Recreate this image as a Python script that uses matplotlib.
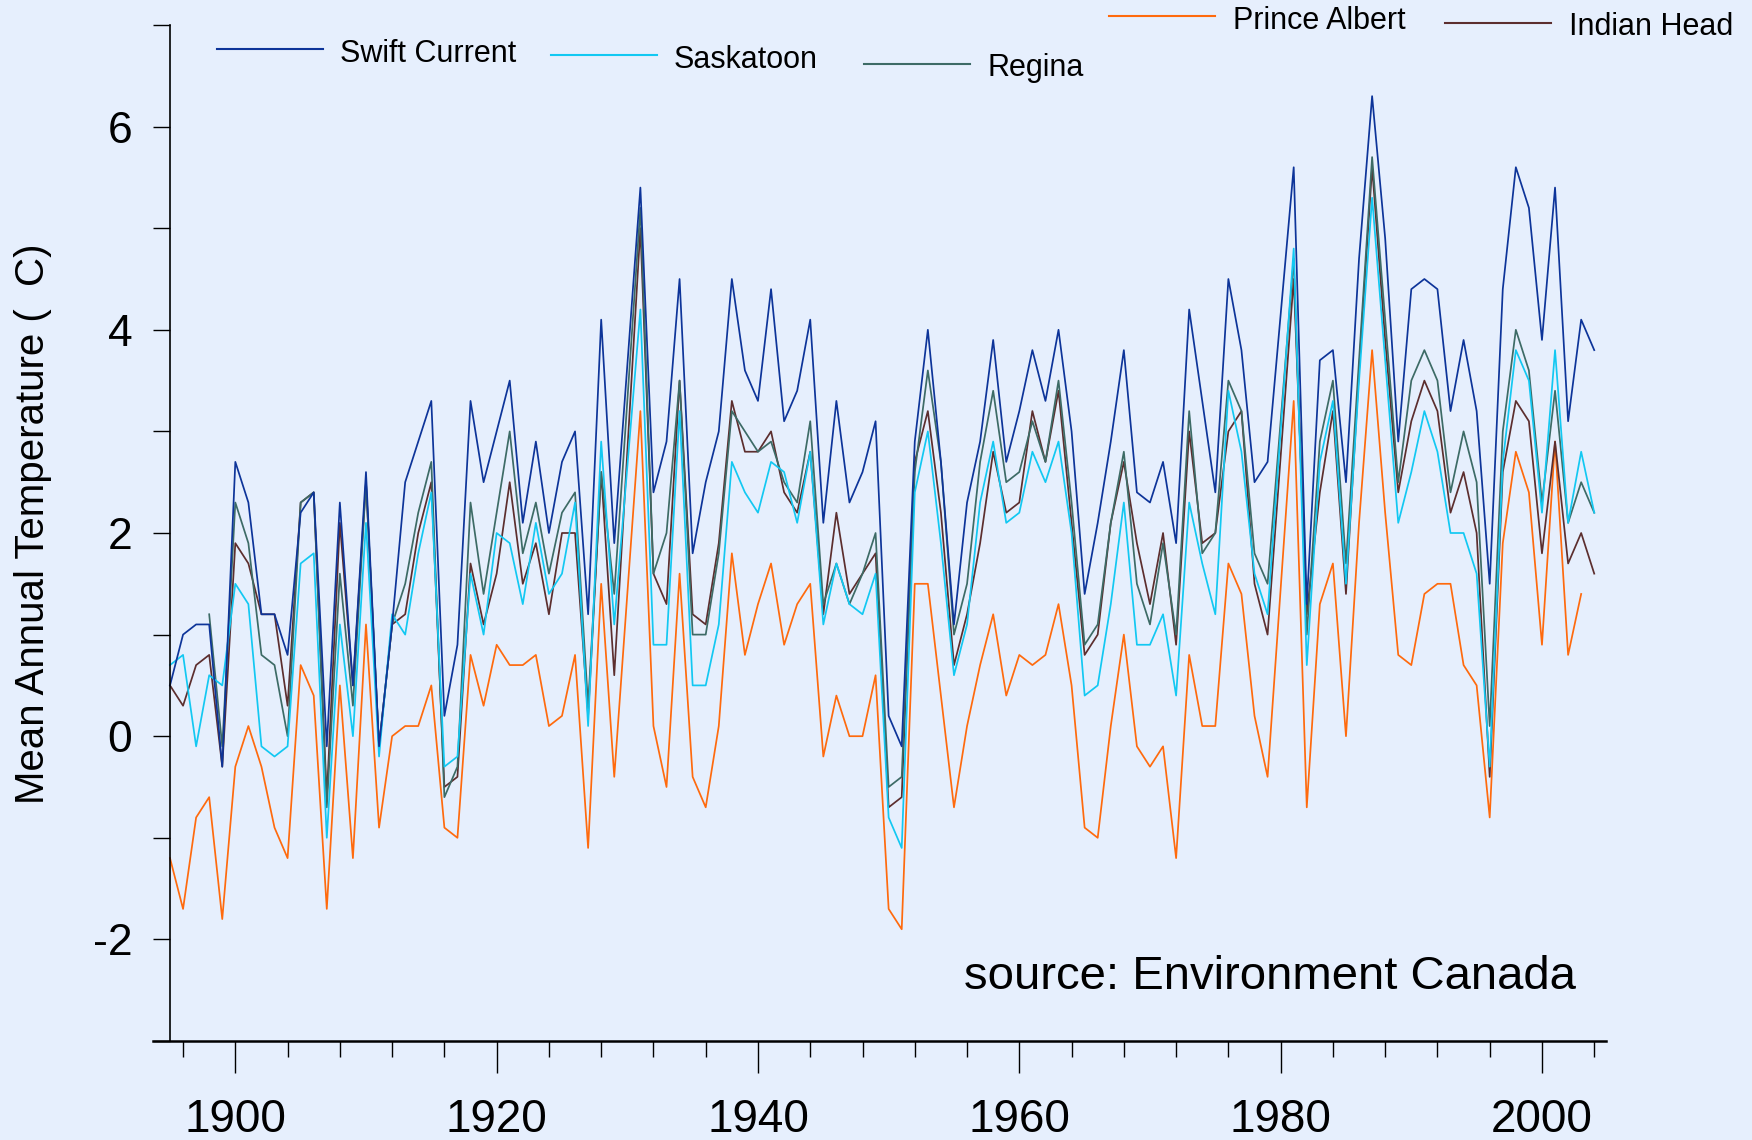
import numpy as np
import matplotlib
matplotlib.use("Agg")
import matplotlib.pyplot as plt
from matplotlib.lines import Line2D

plt.rcParams['font.family'] = ['Liberation Sans', 'DejaVu Sans']
plt.rcParams['axes.unicode_minus'] = False

nan = np.nan

# 年份（1930 和 1980 没有数据点）
years = [y for y in range(1895, 2005) if y not in (1930, 1980)]

# 每行一个年代：1895-99, 1900s, 1910s, 1920s, 1931-39, 1940s, 1950s, 1960s, 1970s, 1981-89, 1990s, 2000-04
swift_current = [
    0.5, 1.0, 1.1, 1.1, -0.3,
    2.7, 2.3, 1.2, 1.2, 0.8, 2.2, 2.4, -0.1, 2.3, 0.5,
    2.6, -0.1, 1.1, 2.5, 2.9, 3.3, 0.2, 0.9, 3.3, 2.5,
    3.0, 3.5, 2.1, 2.9, 2.0, 2.7, 3.0, 1.2, 4.1, 1.9,
    5.4, 2.4, 2.9, 4.5, 1.8, 2.5, 3.0, 4.5, 3.6,
    3.3, 4.4, 3.1, 3.4, 4.1, 2.1, 3.3, 2.3, 2.6, 3.1,
    0.2, -0.1, 2.9, 4.0, 2.7, 1.1, 2.3, 2.9, 3.9, 2.7,
    3.2, 3.8, 3.3, 4.0, 3.0, 1.4, 2.1, 2.9, 3.8, 2.4,
    2.3, 2.7, 1.9, 4.2, 3.3, 2.4, 4.5, 3.8, 2.5, 2.7,
    5.6, 1.3, 3.7, 3.8, 2.5, 4.7, 6.3, 4.9, 2.9,
    4.4, 4.5, 4.4, 3.2, 3.9, 3.2, 1.5, 4.4, 5.6, 5.2,
    3.9, 5.4, 3.1, 4.1, 3.8]

saskatoon = [
    0.7, 0.8, -0.1, 0.6, 0.5,
    1.5, 1.3, -0.1, -0.2, -0.1, 1.7, 1.8, -1.0, 1.1, 0.0,
    2.1, -0.2, 1.2, 1.0, 1.8, 2.4, -0.3, -0.2, 1.6, 1.0,
    2.0, 1.9, 1.3, 2.1, 1.4, 1.6, 2.3, 0.1, 2.9, 1.1,
    4.2, 0.9, 0.9, 3.2, 0.5, 0.5, 1.1, 2.7, 2.4,
    2.2, 2.7, 2.6, 2.1, 2.8, 1.1, 1.7, 1.3, 1.2, 1.6,
    -0.8, -1.1, 2.4, 3.0, 1.9, 0.6, 1.1, 2.3, 2.9, 2.1,
    2.2, 2.8, 2.5, 2.9, 2.0, 0.4, 0.5, 1.3, 2.3, 0.9,
    0.9, 1.2, 0.4, 2.3, 1.7, 1.2, 3.4, 2.8, 1.6, 1.2,
    4.8, 0.7, 2.7, 3.3, 1.5, 3.5, 5.3, 3.7, 2.1,
    2.6, 3.2, 2.8, 2.0, 2.0, 1.6, -0.3, 2.7, 3.8, 3.5,
    2.2, 3.8, 2.1, 2.8, 2.2]

regina = [
    nan, nan, nan, 1.2, -0.1,
    2.3, 1.9, 0.8, 0.7, 0.0, 2.3, 2.4, -0.7, 1.6, 0.3,
    2.5, -0.1, 1.1, 1.5, 2.2, 2.7, -0.6, -0.3, 2.3, 1.4,
    2.2, 3.0, 1.8, 2.3, 1.6, 2.2, 2.4, 0.3, 2.6, 1.4,
    5.2, 1.6, 2.0, 3.5, 1.0, 1.0, 1.8, 3.2, 3.0,
    2.8, 2.9, 2.5, 2.3, 3.1, 1.3, 1.7, 1.3, 1.6, 2.0,
    -0.5, -0.4, 2.6, 3.6, 2.7, 1.0, 1.5, 2.7, 3.4, 2.5,
    2.6, 3.1, 2.7, 3.5, 2.3, 0.9, 1.1, 2.1, 2.8, 1.5,
    1.1, 1.9, 1.0, 3.2, 1.8, 2.0, 3.5, 3.2, 1.8, 1.5,
    4.7, 1.0, 2.9, 3.5, 1.7, 3.7, 5.7, 4.1, 2.5,
    3.5, 3.8, 3.5, 2.4, 3.0, 2.5, 0.1, 3.0, 4.0, 3.6,
    2.3, 3.4, 2.1, 2.5, 2.2]

indian_head = [
    0.5, 0.3, 0.7, 0.8, -0.3,
    1.9, 1.7, 1.2, 1.2, 0.3, 2.3, 2.4, -0.6, 2.1, 0.5,
    2.5, -0.1, 1.1, 1.2, 2.0, 2.5, -0.5, -0.4, 1.7, 1.1,
    1.6, 2.5, 1.5, 1.9, 1.2, 2.0, 2.0, 0.2, 2.6, 0.6,
    5.0, 1.6, 1.3, 3.5, 1.2, 1.1, 1.9, 3.3, 2.8,
    2.8, 3.0, 2.4, 2.2, 2.8, 1.2, 2.2, 1.4, 1.6, 1.8,
    -0.7, -0.6, 2.7, 3.2, 2.2, 0.7, 1.2, 1.9, 2.8, 2.2,
    2.3, 3.2, 2.7, 3.4, 2.1, 0.8, 1.0, 2.1, 2.7, 1.9,
    1.3, 2.0, 0.9, 3.0, 1.9, 2.0, 3.0, 3.2, 1.5, 1.0,
    4.5, 1.2, 2.4, 3.2, 1.4, 3.6, 5.6, 3.9, 2.4,
    3.1, 3.5, 3.2, 2.2, 2.6, 2.0, -0.4, 2.6, 3.3, 3.1,
    1.8, 2.9, 1.7, 2.0, 1.6]

prince_albert = [
    -1.2, -1.7, -0.8, -0.6, -1.8,
    -0.3, 0.1, -0.3, -0.9, -1.2, 0.7, 0.4, -1.7, 0.5, -1.2,
    1.1, -0.9, 0.0, 0.1, 0.1, 0.5, -0.9, -1.0, 0.8, 0.3,
    0.9, 0.7, 0.7, 0.8, 0.1, 0.2, 0.8, -1.1, 1.5, -0.4,
    3.2, 0.1, -0.5, 1.6, -0.4, -0.7, 0.1, 1.8, 0.8,
    1.3, 1.7, 0.9, 1.3, 1.5, -0.2, 0.4, 0.0, 0.0, 0.6,
    -1.7, -1.9, 1.5, 1.5, 0.4, -0.7, 0.1, 0.7, 1.2, 0.4,
    0.8, 0.7, 0.8, 1.3, 0.5, -0.9, -1.0, 0.1, 1.0, -0.1,
    -0.3, -0.1, -1.2, 0.8, 0.1, 0.1, 1.7, 1.4, 0.2, -0.4,
    3.3, -0.7, 1.3, 1.7, 0.0, 2.1, 3.8, 2.2, 0.8,
    0.7, 1.4, 1.5, 1.5, 0.7, 0.5, -0.8, 1.9, 2.8, 2.4,
    0.9, 2.9, 0.8, 1.4, nan]

# 颜色
c_swift = '#0d3499'
c_sask = '#12c8f2'
c_regina = '#3d6b66'
c_prince = '#ff6a0d'
c_indian = '#5c2e2e'
bg = '#e6effd'

fig = plt.figure(figsize=(17.52, 11.40), dpi=100, facecolor=bg)
ax = fig.add_axes([153 / 1752, 1 - 1041 / 1140, (1606 - 153) / 1752, (1041 - 25) / 1140])
ax.set_facecolor(bg)

lw = 1.25
ax.plot(years, prince_albert, color=c_prince, lw=lw)
ax.plot(years, indian_head, color=c_indian, lw=lw)
ax.plot(years, regina, color=c_regina, lw=lw)
ax.plot(years, saskatoon, color=c_sask, lw=lw)
ax.plot(years, swift_current, color=c_swift, lw=lw)

ax.set_xlim(1893.7, 2004.9)
ax.set_ylim(-3, 7)

# 坐标轴样式
ax.spines['top'].set_visible(False)
ax.spines['right'].set_visible(False)
ax.spines['left'].set_position(('data', 1895))
ax.spines['left'].set_linewidth(1.2)
ax.spines['bottom'].set_linewidth(1.8)

ax.set_xticks(range(1900, 2001, 20))
ax.set_xticks(range(1896, 2005, 4), minor=True)
ax.set_yticks(range(-2, 7, 2))
ax.set_yticks(range(-3, 8, 2), minor=True)

ax.tick_params(axis='x', which='major', length=23, width=1.0, pad=18, labelsize=33)
ax.tick_params(axis='x', which='minor', length=11.5, width=1.0)
ax.tick_params(axis='y', which='both', length=12, width=1.0, pad=15, labelsize=32)

# y 轴标题
fig.text(33 / 1752, 1 - 524 / 1140, 'Mean Annual Temperature (  C)', rotation=90,
         ha='center', va='center', fontsize=29)

# 数据来源
fig.text(1576 / 1752, 1 - 977 / 1140, 'source: Environment Canada',
         ha='right', va='center', fontsize=34)

# 手动放置图例
legend_items = [
    ('Swift Current', c_swift, 217, 323, 49, 340, 62),
    ('Saskatoon', c_sask, 551, 657, 55, 674, 68),
    ('Regina', c_regina, 864, 970, 64, 988, 76),
    ('Prince Albert', c_prince, 1109, 1215, 16, 1233, 29),
    ('Indian Head', c_indian, 1445, 1551, 23, 1569, 35),
]
for name, col, x0, x1, ly, tx, ty in legend_items:
    fig.add_artist(Line2D([x0 / 1752, x1 / 1752], [1 - ly / 1140, 1 - ly / 1140],
                          transform=fig.transFigure, color=col, lw=1.5))
    fig.text(tx / 1752, 1 - ty / 1140, name, ha='left', va='baseline', fontsize=22)

plt.savefig('out.png', facecolor=fig.get_facecolor())
plt.close()
